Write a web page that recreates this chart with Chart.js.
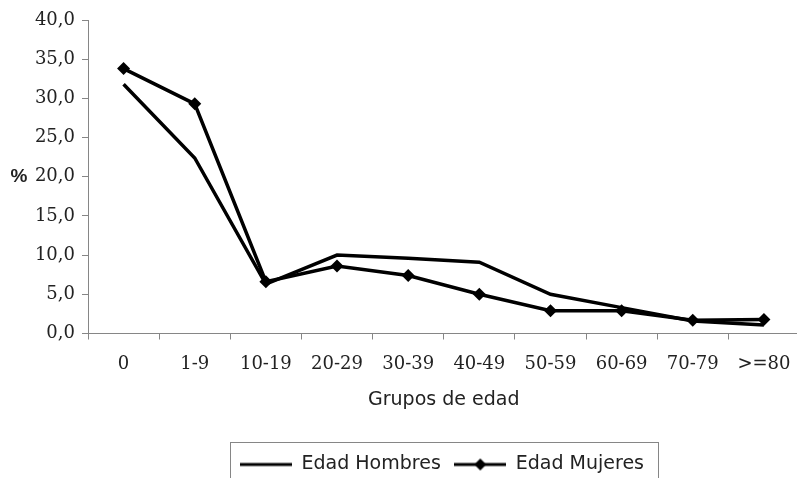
<!DOCTYPE html>
<html>
<head>
<meta charset="utf-8">
<script src="https://cdn.jsdelivr.net/npm/chart.js@4.4.1/dist/chart.umd.min.js"></script>
<style>
  html, body { margin: 0; padding: 0; background: #fff; overflow: hidden; }
  #chart { display: block; }
</style>
</head>
<body>
<canvas id="chart" width="806" height="484"></canvas>
<script>
// data
const categories = ["0", "1-9", "10-19", "20-29", "30-39", "40-49", "50-59", "60-69", "70-79", ">=80"];
const hombres = [31.8, 22.4, 6.3, 10.0, 9.6, 9.1, 5.0, 3.3, 1.6, 1.1];
const mujeres = [33.8, 29.3, 6.6, 8.6, 7.4, 5.0, 2.9, 2.9, 1.7, 1.8];
const yTickLabels = ["0,0", "5,0", "10,0", "15,0", "20,0", "25,0", "30,0", "35,0", "40,0"];

const axisGray = "#868686", textColor = "#222";

// legend samples: plain line / line with diamond
function legendSample(withDiamond) {
  const c = document.createElement("canvas");
  c.width = 52; c.height = 14;
  const g = c.getContext("2d");
  g.strokeStyle = "#000"; g.lineWidth = 3;
  g.beginPath(); g.moveTo(0, 7); g.lineTo(52, 7); g.stroke();
  if (withDiamond) {
    g.fillStyle = "#000";
    g.beginPath(); g.moveTo(26, 1); g.lineTo(32, 7); g.lineTo(26, 13); g.lineTo(20, 7); g.closePath(); g.fill();
  }
  return c;
}
const samples = [legendSample(false), legendSample(true)];

// shift legend to the right, draw its frame and the horizontal "%" label
const extras = {
  id: "extras",
  afterLayout(chart) {
    const shift = 39;
    chart.legend.left += shift;
    chart.legend.right += shift;
  },
  afterDraw(chart) {
    const ctx = chart.ctx, area = chart.chartArea, boxes = chart.legend.legendHitBoxes;
    ctx.save();
    if (boxes && boxes.length) {
      const first = boxes[0], last = boxes[boxes.length - 1];
      const l = Math.round(first.left - 10), r = Math.round(last.left + last.width + 14);
      ctx.strokeStyle = axisGray; ctx.lineWidth = 1;
      ctx.strokeRect(l + 0.5, Math.round(chart.legend.top) + 0.5, r - l, 80);
    }
    ctx.fillStyle = textColor;
    ctx.font = "bold 19px 'Liberation Sans'";
    ctx.textAlign = "center";
    ctx.textBaseline = "middle";
    ctx.fillText("%", 19, (area.top + area.bottom) / 2);
    ctx.restore();
  }
};

new Chart(document.getElementById("chart").getContext("2d"), {
  type: "line",
  data: {
    labels: categories,
    datasets: [
      { label: "Edad Hombres", data: hombres, borderColor: "#000", backgroundColor: "#000",
        borderWidth: 3.5, pointRadius: 0, tension: 0 },
      { label: "Edad Mujeres", data: mujeres, borderColor: "#000", backgroundColor: "#000",
        borderWidth: 3.5, pointStyle: "rectRot", pointRadius: 6.5, pointBorderWidth: 0, tension: 0 }
    ]
  },
  options: {
    responsive: false,
    animation: false,
    devicePixelRatio: 1,
    layout: { padding: { top: 20, left: 0, right: 0, bottom: 0 } },
    plugins: {
      tooltip: { enabled: false },
      legend: {
        position: "bottom",
        labels: {
          usePointStyle: true,
          pointStyleWidth: 52,
          padding: 13.5,
          color: textColor,
          font: { family: "DejaVu Sans", size: 19 },
          generateLabels: (chart) => chart.data.datasets.map((ds, i) => ({
            text: ds.label, pointStyle: samples[i], fillStyle: "#000",
            strokeStyle: "#000", lineWidth: 0, fontColor: textColor, hidden: false, datasetIndex: i
          }))
        }
      }
    },
    scales: {
      x: {
        offset: true,
        grid: { display: true, drawOnChartArea: false, offset: true, tickLength: 6, color: axisGray },
        border: { color: axisGray, width: 1 },
        ticks: { color: textColor, font: { family: "DejaVu Serif", size: 18 }, padding: 14, maxRotation: 0, autoSkip: false },
        title: { display: true, text: "Grupos de edad", color: textColor,
                 font: { family: "DejaVu Sans", size: 19 }, padding: { top: 0, bottom: 30 } },
        afterFit(scale) { scale.height = 108; }
      },
      y: {
        min: 0, max: 40,
        grid: { display: true, drawOnChartArea: false, tickLength: 6, color: axisGray },
        border: { color: axisGray, width: 1 },
        ticks: { stepSize: 5, color: textColor, font: { family: "DejaVu Serif", size: 18 }, padding: 7,
                 callback: (v, i) => yTickLabels[i] },
        afterFit(scale) { scale.width = 88; }
      }
    }
  },
  plugins: [extras]
});
</script>
</body>
</html>
